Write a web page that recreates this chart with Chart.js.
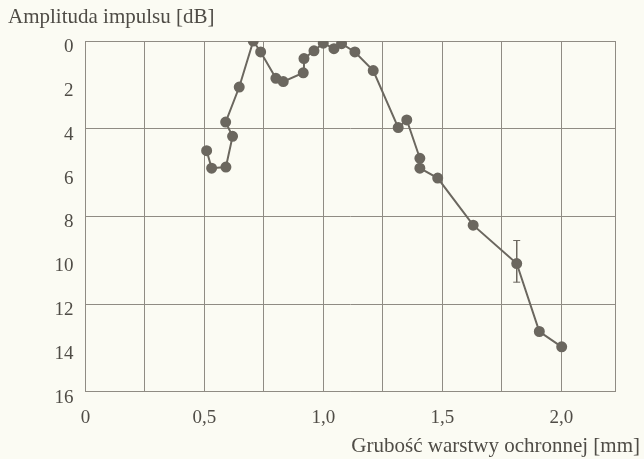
<!DOCTYPE html>
<html>
<head>
<meta charset="utf-8">
<script src="https://cdn.jsdelivr.net/npm/chart.js@4"></script>
<style>
  body { margin: 0; background: #fbfbf3; }
  #wrap { width: 644px; height: 459px; }
</style>
</head>
<body>
<div id="wrap"><canvas id="myChart"></canvas></div>
<script>
// thickness of protective layer [mm]
const thickness = [0.509, 0.530, 0.590, 0.618, 0.589, 0.646, 0.705, 0.736, 0.800, 0.831,
                   0.915, 0.918, 0.960, 0.999, 1.044, 1.076, 1.132, 1.209, 1.314, 1.350,
                   1.405, 1.405, 1.480, 1.629, 1.812, 1.907, 2.001];
// pulse amplitude [dB]
const amplitude = [5.0, 5.8, 5.75, 4.35, 3.7, 2.1, 0.0, 0.5, 1.7, 1.85,
                   1.45, 0.8, 0.45, 0.1, 0.35, 0.12, 0.5, 1.35, 3.95, 3.6,
                   5.35, 5.8, 6.25, 8.4, 10.15, 13.25, 13.95];
// error bar at x = 1.812
const errX = 1.812;
const errLow = 9.1;
const errHigh = 11.0;

const xTicks = [0, 0.25, 0.5, 0.75, 1.0, 1.25, 1.5, 1.75, 2.0, 2.225];
const xMax = 2.225;
const yMax = 16;

const ink = '#6b675f';
const gridCol = '#8f8b83';
const textCol = '#4f4c46';
const fontFam = "'Liberation Serif', 'DejaVu Serif', serif";

const points = thickness.map((t, i) => ({x: t, y: amplitude[i]}));

const ctx = document.getElementById('myChart').getContext('2d');
const config = {
    type: 'line',
    data: {
        datasets: [{
            data: points,
            borderColor: ink,
            backgroundColor: ink,
            borderWidth: 2,
            pointRadius: 4.5,
            pointBackgroundColor: ink,
            pointBorderColor: ink,
            tension: 0,
            order: 1
        }, {
            data: [{x: errX, y: errLow}, {x: errX, y: errHigh}],
            borderColor: ink,
            borderWidth: 1,
            pointStyle: 'line',
            pointRadius: 3.5,
            pointBorderWidth: 1,
            pointBorderColor: ink,
            order: 2
        }]
    },
    options: {
        responsive: true,
        maintainAspectRatio: false,
        animation: false,
        layout: { padding: { left: 8, right: 4, top: 5, bottom: 0 } },
        plugins: {
            legend: { display: false },
            tooltip: { enabled: false },
            title: {
                display: true,
                text: 'Amplituda impulsu [dB]',
                align: 'start',
                color: textCol,
                font: { family: fontFam, size: 21, weight: 'normal' },
                padding: { top: 0, bottom: 10.8 }
            },
            subtitle: {
                display: true,
                position: 'bottom',
                text: 'Grubość warstwy ochronnej [mm]',
                align: 'end',
                color: textCol,
                font: { family: fontFam, size: 21, weight: 'normal' },
                padding: { top: 0, bottom: 0 }
            }
        },
        scales: {
            x: {
                type: 'linear',
                min: 0,
                max: xMax,
                afterBuildTicks: (scale) => { scale.ticks = xTicks.map(v => ({value: v})); },
                afterFit: (scale) => { scale.height = 42; },
                grid: { color: gridCol, lineWidth: 1, drawTicks: false },
                border: { color: gridCol, width: 1 },
                ticks: {
                    color: textCol,
                    padding: 15,
                    maxRotation: 0,
                    autoSkip: false,
                    font: { family: fontFam, size: 19 },
                    callback: (v) => {
                        if (v > 2.001 || Math.abs(v * 2 - Math.round(v * 2)) > 1e-6) return '';
                        return v === 0 ? '0' : v.toFixed(1).replace('.', ',');
                    }
                }
            },
            y: {
                min: 0,
                max: yMax,
                reverse: true,
                afterFit: (scale) => { scale.width = 77.5; },
                grid: {
                    drawTicks: false,
                    lineWidth: 1,
                    color: (c) => (c.tick && c.tick.value % 4 === 0) ? gridCol : 'rgba(0,0,0,0)'
                },
                border: { color: gridCol, width: 1 },
                ticks: {
                    stepSize: 2,
                    color: textCol,
                    padding: 12,
                    labelOffset: 6,
                    font: { family: fontFam, size: 19 }
                }
            },
            // empty axis that only keeps room on the right of the plot
            y2: {
                position: 'right',
                display: true,
                grid: { display: false },
                border: { display: false },
                ticks: { display: false },
                afterFit: (scale) => { scale.width = 25; }
            }
        }
    }
};
const myChart = new Chart(ctx, config);
</script>
</body>
</html>
